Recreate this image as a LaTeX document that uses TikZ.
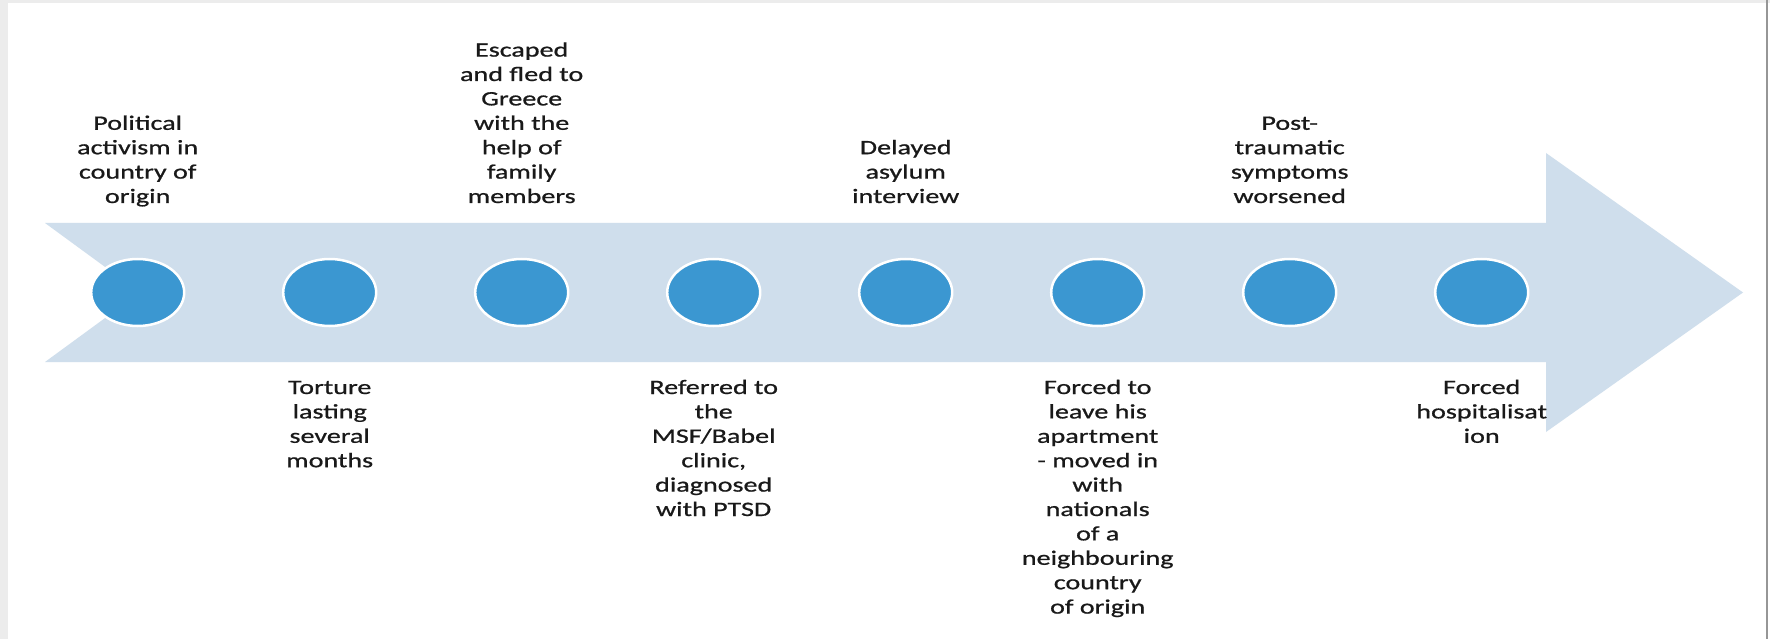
\documentclass[tikz,border=0pt]{standalone}
\usepackage{fontspec}
\setmainfont{Carlito}[FakeStretch=1.37, FakeBold=0.8]
\usetikzlibrary{shapes.geometric}
\definecolor{arrowblue}{RGB}{207,222,236}
\definecolor{dotblue}{RGB}{59,151,209}
\definecolor{framegray}{RGB}{236,236,236}
\definecolor{edgegray}{RGB}{150,150,150}
\setlength{\tabcolsep}{0pt}
\newcommand{\lblfont}{\fontsize{20.5bp}{24.4bp}\selectfont}
\tikzset{
  dot/.style={shape=ellipse, fill=dotblue, draw=white, line width=2.5bp,
              minimum width=93bp, minimum height=67bp, inner sep=0pt},
  uplbl/.style={anchor=base, inner sep=0pt, font=\lblfont, text=black!90},
  downlbl/.style={anchor=base, inner sep=0pt, font=\lblfont, text=black!90},
}
\begin{document}
\begin{tikzpicture}[x=1bp, y=-1bp]
  \useasboundingbox (0,0) rectangle (1770,639);
  \fill[white] (0,0) rectangle (1770,639);
  % page frame
  \fill[framegray] (0,0) rectangle (8,639);
  \fill[framegray] (0,0) rectangle (1770,3);
  \fill[edgegray] (1766,0) rectangle (1768,639);

  % notched timeline arrow
  \fill[arrowblue] (45,223) -- (1546,223) -- (1546,153) -- (1743,292.5)
    -- (1546,432) -- (1546,362) -- (45,362) -- (140,292.5) -- cycle;

  % milestones
  \foreach \i in {1,...,8}
    \node[dot] (c\i) at ({137.7+192*(\i-1)},292.5) {};

  % labels above the arrow
  \node[uplbl] (t1) at (137.7,203) {\begin{tabular}[b]{c}Political\\activism in\\country of\\origin\end{tabular}};
  \node[uplbl] (t3) at (521.7,203) {\begin{tabular}[b]{c}Escaped\\and fled to\\Greece\\with the\\help of\\family\\members\end{tabular}};
  \node[uplbl] (t5) at (905.7,203) {\begin{tabular}[b]{c}Delayed\\asylum\\interview\end{tabular}};
  \node[uplbl] (t7) at (1289.7,203) {\begin{tabular}[b]{c}Post-\\traumatic\\symptoms\\worsened\end{tabular}};

  % labels below the arrow
  \node[downlbl] (t2) at (329.7,394) {\begin{tabular}[t]{c}Torture\\lasting\\several\\months\end{tabular}};
  \node[downlbl] (t4) at (713.7,394) {\begin{tabular}[t]{c}Referred to\\the\\MSF/Babel\\clinic,\\diagnosed\\with PTSD\end{tabular}};
  \node[downlbl] (t6) at (1097.7,394) {\begin{tabular}[t]{c}Forced to\\leave his\\apartment\\- moved in\\with\\nationals\\of a\\neighbouring\\country\\of origin\end{tabular}};
  \node[downlbl] (t8) at (1481.7,394) {\begin{tabular}[t]{c}Forced\\hospitalisat\\ion\end{tabular}};
\end{tikzpicture}
\end{document}
